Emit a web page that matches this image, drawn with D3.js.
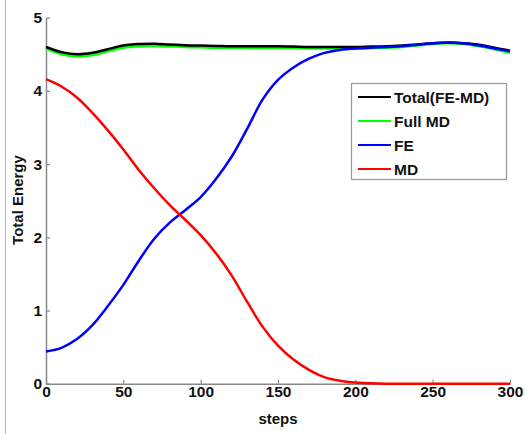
<!DOCTYPE html>
<html><head><meta charset="utf-8">
<script src="https://cdn.jsdelivr.net/npm/d3@7"></script>
<style>body{margin:0;background:#fff}svg{display:block}text{font-family:"Liberation Sans",Arial,sans-serif;font-weight:bold}</style>
</head><body>
<script>
const steps = [0,10,20,30,40,50,60,70,80,90,100,110,120,130,140,150,160,170,180,190,200,210,220,230,240,250,260,270,280,290,300];
const totalFEMD = [4.60,4.53,4.50,4.52,4.57,4.62,4.64,4.645,4.635,4.625,4.62,4.615,4.61,4.61,4.61,4.61,4.605,4.60,4.60,4.60,4.60,4.605,4.61,4.62,4.635,4.65,4.66,4.65,4.63,4.59,4.55];
const fullMD = [4.58,4.50,4.47,4.49,4.54,4.59,4.61,4.615,4.61,4.60,4.595,4.59,4.59,4.59,4.585,4.585,4.585,4.58,4.58,4.58,4.58,4.585,4.59,4.60,4.62,4.64,4.65,4.64,4.61,4.57,4.52];
const fe = [0.44,0.49,0.61,0.80,1.06,1.35,1.68,1.98,2.20,2.37,2.55,2.80,3.10,3.48,3.88,4.15,4.32,4.44,4.52,4.56,4.58,4.59,4.60,4.61,4.63,4.65,4.66,4.65,4.62,4.58,4.54];
const md = [4.16,4.06,3.91,3.70,3.46,3.20,2.92,2.67,2.44,2.24,2.03,1.78,1.48,1.12,0.78,0.52,0.33,0.19,0.09,0.04,0.015,0.005,0,0,0,0,0,0,0,0,0];
const seriesNames = ["Total(FE-MD)","Full MD","FE","MD"];
const seriesColors = ["#000000","#00ff00","#0000ff","#ff0000"];
const xTicks = [0,50,100,150,200,250,300];
const yTicks = [0,1,2,3,4,5];

const W=527,H=434;
const svg=d3.select("body").append("svg").attr("width",W).attr("height",H);
svg.append("line").attr("x1",5.5).attr("x2",5.5).attr("y1",0).attr("y2",H).attr("stroke","#bbb").attr("stroke-width",1);
const x=d3.scaleLinear().domain([0,300]).range([46,510]);
const y=d3.scaleLinear().domain([0,5]).range([383.7,17.7]);

const ax=svg.append("g").attr("transform","translate(0,383.7)").call(d3.axisBottom(x).tickValues(xTicks).tickFormat(d3.format("d")).tickSizeInner(-4).tickSizeOuter(0).tickPadding(2));
const ay=svg.append("g").attr("transform","translate(46,0)").call(d3.axisLeft(y).tickValues(yTicks).tickFormat(d3.format("d")).tickSizeInner(-4).tickSizeOuter(0).tickPadding(4));
[ax,ay].forEach(g=>{g.select(".domain").attr("stroke","#888").attr("stroke-width",1.5);g.selectAll(".tick line").attr("stroke","#888").attr("stroke-width",1.2);g.selectAll("text").attr("font-size",15.5).attr("fill","#111").style("font-family","Liberation Sans, Arial, sans-serif").style("font-weight","bold");});

const data=[totalFEMD,fullMD,fe,md];
const order=[1,0,2,3];
const line=d3.line().x((d,i)=>x(steps[i])).y(d=>y(d)).curve(d3.curveCatmullRom);
order.forEach(k=>{
  svg.append("path").attr("d",line(data[k])).attr("fill","none").attr("stroke",seriesColors[k]).attr("stroke-width",2.5);
});

svg.append("text").attr("x",278).attr("y",424).attr("text-anchor","middle").attr("font-size",15).attr("fill","#111").text("steps");
svg.append("text").attr("transform","translate(23,200) rotate(-90)").attr("text-anchor","middle").attr("font-size",15).attr("fill","#111").text("Total Energy");

const lg=svg.append("g");
lg.append("rect").attr("x",351.5).attr("y",83.5).attr("width",155).attr("height",96).attr("fill","#fff").attr("stroke","#999").attr("stroke-width",1.2);
seriesNames.forEach((n,i)=>{
  const yy=97+i*24;
  lg.append("line").attr("x1",358).attr("x2",391).attr("y1",yy).attr("y2",yy).attr("stroke",seriesColors[i]).attr("stroke-width",2);
  lg.append("text").attr("x",394).attr("y",yy).attr("dy","0.36em").attr("font-size",15.5).attr("fill","#111").text(n);
});
</script>
</body></html>
